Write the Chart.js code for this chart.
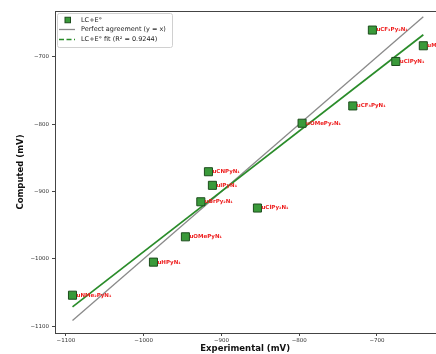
<!DOCTYPE html>
<html>
<head>
<meta charset="utf-8">
<script src="https://cdn.jsdelivr.net/npm/chart.js@4.4.1/dist/chart.umd.min.js"></script>
<style>
  html, body { margin: 0; padding: 0; overflow: hidden; background: #fff; }
</style>
</head>
<body>
<canvas id="cmp-chart" width="442" height="354"></canvas>
<script>
// values (mV)
const names = [
  "uNMe₂PyN₁", "uHPyN₁", "uOMePyN₁", "uCNPyN₁", "uIPyN₁", "uBrPy₂N₁",
  "uClPy₂N₁", "uOMePy₂N₁", "uCF₃PyN₁", "uCF₃Py₂N₁", "uClPyN₁", "uMePyN₁"
];
const experimental = [-1091.5, -987.4, -946.3, -916.7, -911.6, -926.5, -853.7, -796.3, -731.1, -705.9, -675.8, -640.4];
const computed = [-1053.9, -1004.8, -967.2, -870.6, -890.8, -915.2, -924.5, -798.6, -772.9, -660.3, -706.9, -683.6];

// end points of the two lines
const lineX = [-1091.5, -640.4];
const fitY = [-1071.3, -667.3];
const r2 = "0.9244";

const xTicks = [-1100, -1000, -900, -800, -700];
const yTicks = [-1100, -1000, -900, -800, -700];

const GREEN = "#3a9a3a";
const GREEN_EDGE = "#1d4d1d";
const FIT = "#2a8c2a";
const GREY = "#8a8a8a";

const ctx = document.getElementById("cmp-chart").getContext("2d");

const fmt = (v) => String(v).replace("-", "\u2212");

// box around the plot, like matplotlib spines
const frame = {
  id: "frame",
  afterDraw(chart) {
    const { ctx, chartArea: a } = chart;
    ctx.save();
    ctx.strokeStyle = "#444";
    ctx.lineWidth = 1;
    ctx.strokeRect(Math.round(a.left) + 0.5, Math.round(a.top) + 0.5,
      Math.round(a.right - a.left) + 4, Math.round(a.bottom - a.top));
    ctx.restore();
  },
};

// red name next to each square
const pointNames = {
  id: "pointNames",
  afterDatasetsDraw(chart) {
    const { ctx, scales } = chart;
    ctx.save();
    ctx.font = "bold 5.5px 'DejaVu Sans'";
    ctx.fillStyle = "#ee1c1c";
    ctx.textBaseline = "middle";
    ctx.textAlign = "left";
    names.forEach((n, i) => {
      const px = scales.x.getPixelForValue(experimental[i]);
      const py = scales.y.getPixelForValue(computed[i]);
      ctx.fillText(n, px + 4, py);
    });
    ctx.restore();
  },
};

// legend box in the upper left corner of the plot
const cornerLegend = {
  id: "cornerLegend",
  afterDraw(chart) {
    const { ctx, chartArea: a } = chart;
    const x = a.left + 2, y = a.top + 2;
    ctx.save();
    ctx.fillStyle = "rgba(255,255,255,0.85)";
    ctx.strokeStyle = "#d0d0d0";
    ctx.lineWidth = 1;
    ctx.beginPath();
    ctx.roundRect(x + 0.5, y + 0.5, 115, 34, 2);
    ctx.fill();
    ctx.stroke();

    ctx.font = "6.5px 'DejaVu Sans'";
    ctx.textBaseline = "middle";
    const tx = x + 24;
    const rows = [y + 7, y + 16.5, y + 26.5];

    ctx.fillStyle = GREEN;
    ctx.strokeStyle = GREEN_EDGE;
    ctx.fillRect(x + 8, rows[0] - 2.75, 5.5, 5.5);
    ctx.strokeRect(x + 8, rows[0] - 2.75, 5.5, 5.5);

    ctx.strokeStyle = GREY;
    ctx.lineWidth = 1.3;
    ctx.beginPath();
    ctx.moveTo(x + 2, rows[1]);
    ctx.lineTo(x + 18, rows[1]);
    ctx.stroke();

    ctx.strokeStyle = FIT;
    ctx.lineWidth = 1.6;
    ctx.setLineDash([5, 2.5]);
    ctx.beginPath();
    ctx.moveTo(x + 2, rows[2]);
    ctx.lineTo(x + 18, rows[2]);
    ctx.stroke();
    ctx.setLineDash([]);

    ctx.fillStyle = "#222";
    ctx.fillText("LC+E°", tx, rows[0]);
    ctx.fillText("Perfect agreement (y = x)", tx, rows[1]);
    ctx.fillText("LC+E° fit (R² = " + r2 + ")", tx, rows[2]);
    ctx.restore();
  },
};

const tickFont = { family: "'DejaVu Sans'", size: 5.5 };
const titleFont = { family: "'DejaVu Sans'", size: 8.5, weight: "bold" };

new Chart(ctx, {
  type: "scatter",
  data: {
    datasets: [
      {
        label: "LC+E°",
        data: experimental.map((x, i) => ({ x: x, y: computed[i] })),
        pointStyle: "rect",
        pointRadius: 5.7,
        backgroundColor: GREEN,
        borderColor: GREEN_EDGE,
        borderWidth: 1,
        order: 0,
      },
      {
        label: "LC+E° fit",
        data: lineX.map((x, i) => ({ x: x, y: fitY[i] })),
        showLine: true,
        pointRadius: 0,
        borderColor: FIT,
        borderWidth: 1.7,
        order: 1,
      },
      {
        label: "Perfect agreement (y = x)",
        data: lineX.map((x) => ({ x: x, y: x })),
        showLine: true,
        pointRadius: 0,
        borderColor: GREY,
        borderWidth: 1.3,
        order: 2,
      },
    ],
  },
  options: {
    responsive: false,
    animation: false,
    layout: { padding: { left: 0, top: 11, right: 0, bottom: 0 } },
    plugins: {
      legend: { display: false },
      tooltip: { enabled: false },
    },
    scales: {
      x: {
        type: "linear",
        min: -1114,
        max: -625,
        afterBuildTicks: (s) => { s.ticks = xTicks.map((v) => ({ value: v })); },
        afterFit: (s) => { s.height = 21; },
        border: { display: false },
        grid: { drawOnChartArea: false, tickLength: 3, color: "#444" },
        ticks: { font: tickFont, color: "#333", padding: 1, callback: fmt, maxRotation: 0 },
        title: { display: true, text: "Experimental (mV)", font: titleFont, color: "#111", padding: 0 },
      },
      y: {
        type: "linear",
        min: -1110,
        max: -632,
        afterBuildTicks: (s) => { s.ticks = yTicks.map((v) => ({ value: v })); },
        afterFit: (s) => { s.width = 55; },
        border: { display: false },
        grid: { drawOnChartArea: false, tickLength: 3, color: "#444" },
        ticks: { font: tickFont, color: "#333", padding: 3, callback: fmt },
        title: { display: true, text: "Computed (mV)", font: titleFont, color: "#111", padding: { top: 16, bottom: 0 } },
      },
    },
  },
  plugins: [frame, pointNames, cornerLegend],
});
</script>
</body>
</html>
